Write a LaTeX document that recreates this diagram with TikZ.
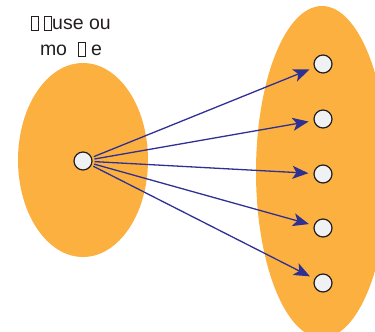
\documentclass[tikz,border=0pt]{standalone}
\usepackage{fontspec}
\setmainfont{Liberation Sans}
\usetikzlibrary{arrows.meta}
\definecolor{blobfill}{HTML}{FBB040}
\definecolor{arrowblue}{HTML}{2E3192}
\definecolor{inkgray}{HTML}{231F20}
\definecolor{dotfill}{HTML}{F0F1F3}
\newcommand{\tofu}{{\setlength{\fboxsep}{0pt}\setlength{\fboxrule}{0.9bp}\fbox{\rule{0pt}{13bp}\hspace{6bp}}}}
\tikzset{
  dot/.style={circle, draw=inkgray, fill=dotfill, line width=1.2bp, inner sep=0pt, minimum size=18bp},
  maparrow/.style={arrowblue, line width=1.3bp, -{Stealth[length=16bp, width=13bp, inset=4bp]}, shorten >=5bp, shorten <=2bp}
}
\begin{document}
\begin{tikzpicture}[x=1bp, y=-1bp]
  \useasboundingbox (0,0) rectangle (375,332);

  % the two sets
  \begin{scope}
    \clip (0,0) rectangle (375,332);
    \fill[blobfill] (83,160) ellipse [x radius=65, y radius=97];
    \fill[blobfill] (322,172) ellipse [x radius=66, y radius=166];
  \end{scope}

  % label
  \node[font=\fontsize{19.5bp}{26bp}\selectfont, text=inkgray, align=center] (label) at (71,36)
    {\tofu\ \tofu use ou\\mo\ \ \tofu\ e};

  % source point
  \node[dot] (src) at (83,161) {};

  % image points and arrows
  \foreach \i/\y in {1/64, 2/119, 3/174, 4/228, 5/283} {
    \node[dot] (t\i) at (323,\y) {};
    \draw[maparrow] (src) -- (t\i);
  }
\end{tikzpicture}
\end{document}
